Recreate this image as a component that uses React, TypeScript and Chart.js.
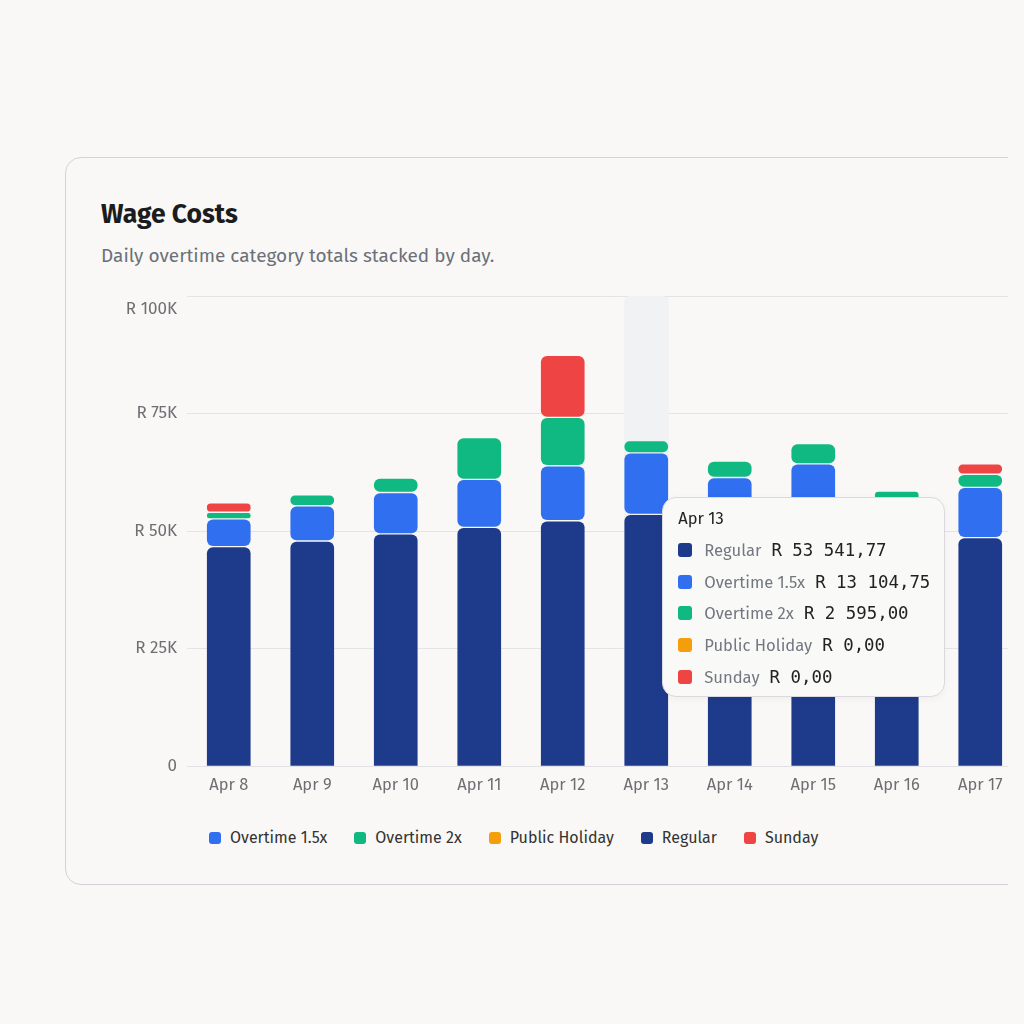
import React, { useEffect, useRef } from "react";
import { Chart, registerables, Tooltip } from "chart.js";

Chart.register(...registerables);

// ---- data -----------------------------------------------------------------
const days = ["Apr 8", "Apr 9", "Apr 10", "Apr 11", "Apr 12", "Apr 13", "Apr 14", "Apr 15", "Apr 16", "Apr 17"];
const regular = [46700, 47900, 49400, 50800, 52200, 53541.77, 52400, 53100, 50600, 48600];
const overtime15 = [5900, 7500, 8800, 10200, 11700, 13104.75, 9000, 11200, 6000, 10700];
const overtime2 = [1400, 2300, 3100, 8900, 10300, 2595, 3500, 4300, 1900, 2800];
const publicHoliday = [0, 0, 0, 0, 0, 0, 0, 0, 0, 0];
const sunday = [2000, 0, 0, 0, 13200, 0, 0, 0, 0, 2200];

const yTicks = [0, 25000, 50000, 75000, 100000];
const focusDay = "Apr 13";
const pointerValue = 36000;

const seriesNames = ["Regular", "Overtime 1.5x", "Overtime 2x", "Public Holiday", "Sunday"];
const seriesColors = ["#1e3a8a", "#2f6ff0", "#10b981", "#f59e0b", "#ef4444"];
const seriesValues = [regular, overtime15, overtime2, publicHoliday, sunday];

const PAGE_BG = "#f9f8f6";
const SANS = "'Fira Sans', 'Noto Sans', sans-serif";
const MONO = "'DejaVu Sans Mono', 'Liberation Mono', monospace";

function formatRand(v: number): string {
  const [int, dec] = v.toFixed(2).split(".");
  const grouped = int.replace(/\B(?=(\d{3})+(?!\d))/g, " ");
  return `R ${grouped},${dec}`;
}

function formatAxis(v: number): string {
  return v === 0 ? "0" : `R ${v / 1000}K`;
}

(Tooltip.positioners as any).pointer = function (elements: any[], eventPosition: any) {
  if (!elements.length) return false;
  return { x: elements[0].element.x, y: eventPosition.y };
};

// light column behind the focused day
const focusColumn = {
  id: "focusColumn",
  beforeDatasetsDraw(chart: any) {
    const idx = days.indexOf(focusDay);
    const el = chart.getDatasetMeta(0).data[idx];
    if (!el) return;
    const { ctx, chartArea } = chart;
    const w = el.width;
    ctx.save();
    ctx.fillStyle = "#f1f2f3";
    ctx.beginPath();
    ctx.roundRect(el.x - w / 2, chartArea.top, w, chartArea.bottom - chartArea.top, [6, 6, 0, 0]);
    ctx.fill();
    ctx.restore();
  },
};

const RADIUS = 7;

export default function App() {
  const canvasRef = useRef<HTMLCanvasElement | null>(null);
  const boxRef = useRef<HTMLDivElement | null>(null);
  const tipRef = useRef<HTMLDivElement | null>(null);

  useEffect(() => {
    document.body.style.background = PAGE_BG;
    const canvas = canvasRef.current!;
    Chart.defaults.font.family = SANS;

    const external = (context: any) => {
      const { tooltip } = context;
      const el = tipRef.current;
      const box = boxRef.current;
      if (!el || !box) return;
      if (tooltip.opacity === 0 || !tooltip.dataPoints?.length) {
        el.style.opacity = "0";
        return;
      }
      el.innerHTML = "";
      const title = document.createElement("div");
      title.textContent = tooltip.title?.[0] ?? "";
      Object.assign(title.style, { fontSize: "16.5px", color: "#222", lineHeight: "22px", marginBottom: "4px" });
      el.appendChild(title);
      tooltip.dataPoints.forEach((dp: any) => {
        const row = document.createElement("div");
        Object.assign(row.style, { display: "flex", alignItems: "center", height: "31.8px", whiteSpace: "nowrap" });
        const sw = document.createElement("span");
        Object.assign(sw.style, {
          width: "14px", height: "14px", borderRadius: "3px", background: dp.dataset.backgroundColor,
          marginRight: "12px", flex: "none",
        });
        const lbl = document.createElement("span");
        lbl.textContent = dp.dataset.label;
        Object.assign(lbl.style, { color: "#737880", fontSize: "16.6px", marginRight: "10px" });
        const val = document.createElement("span");
        val.textContent = formatRand(dp.parsed.y);
        Object.assign(val.style, { color: "#222", fontSize: "17.4px", fontFamily: MONO });
        row.append(sw, lbl, val);
        el.appendChild(row);
      });
      el.style.opacity = "1";
      const left = box.offsetLeft + tooltip.caretX + 16;
      const top = box.offsetTop + tooltip.caretY - el.offsetHeight / 2;
      el.style.left = `${left}px`;
      el.style.top = `${top}px`;
    };

    const chart = new Chart(canvas, {
      type: "bar",
      data: {
        labels: days,
        datasets: seriesNames.map((name, i) => ({
          label: name,
          data: seriesValues[i],
          backgroundColor: seriesColors[i],
          hoverBackgroundColor: seriesColors[i],
          borderColor: "rgba(0,0,0,0)",
          hoverBorderColor: "rgba(0,0,0,0)",
          borderWidth: i === 0 ? { top: 1, left: 1, right: 1, bottom: 0 } : 1,
          borderSkipped: false,
          borderRadius:
            i === 0
              ? { topLeft: RADIUS, topRight: RADIUS, bottomLeft: 0, bottomRight: 0 }
              : { topLeft: RADIUS, topRight: RADIUS, bottomLeft: RADIUS, bottomRight: RADIUS },
          barThickness: 45,
        })),
      },
      plugins: [focusColumn],
      options: {
        animation: false,
        responsive: true,
        maintainAspectRatio: false,
        events: [],
        layout: { padding: { top: 0, right: 0, bottom: 0, left: 0 } },
        scales: {
          x: {
            stacked: true,
            grid: { display: false, drawTicks: false },
            border: { display: true, color: "#e1e1e6", width: 1 },
            ticks: { color: "#6e6e73", font: { size: 16.5 }, padding: 9 },
          },
          y: {
            stacked: true,
            min: 0,
            max: 100000,
            afterFit(scale: any) {
              scale.width = 86;
            },
            afterBuildTicks(scale: any) {
              scale.ticks = yTicks.map((v) => ({ value: v }));
            },
            grid: { color: "#e3e3e8", lineWidth: 1, drawTicks: false },
            border: { display: false },
            ticks: {
              color: "#6e6e73",
              padding: 10,
              font: (c: any) =>
                c.tick && c.tick.value === 100000 ? { size: 17, lineHeight: 26 / 17 } : { size: 17 },
              callback: (v: any) => (Number(v) === 100000 ? ["", formatAxis(Number(v))] : formatAxis(Number(v))),
            },
          },
        },
        plugins: {
          legend: { display: false },
          tooltip: {
            enabled: false,
            mode: "index",
            intersect: false,
            position: "pointer" as any,
            external,
          },
        },
      },
    });

    const idx = days.indexOf(focusDay);
    const barX = chart.getDatasetMeta(0).data[idx].x;
    chart.tooltip!.setActiveElements(
      seriesNames.map((_, i) => ({ datasetIndex: i, index: idx })),
      { x: barX, y: chart.scales.y.getPixelForValue(pointerValue) }
    );
    chart.update();

    return () => chart.destroy();
  }, []);

  return (
    <div
      style={{
        position: "relative",
        width: 1000,
        height: 1008,
        overflow: "hidden",
        background: PAGE_BG,
        fontFamily: SANS,
      }}
    >
      <div
        style={{
          position: "absolute",
          left: 57,
          top: 149,
          width: 1100,
          height: 726,
          border: "1.5px solid #d2d2da",
          borderRadius: 16,
          background: PAGE_BG,
        }}
      />
      <div
        style={{
          position: "absolute",
          left: 93,
          top: 190,
          fontSize: 26.5,
          fontWeight: 700,
          lineHeight: "32px",
          color: "#1c1c1e",
        }}
      >
        Wage Costs
      </div>
      <div
        style={{
          position: "absolute",
          left: 93,
          top: 235,
          fontSize: 19,
          lineHeight: "26px",
          color: "#6b7079",
        }}
      >
        Daily overtime category totals stacked by day.
      </div>
      <div ref={boxRef} style={{ position: "absolute", left: 93, top: 252, width: 921, height: 544 }}>
        <canvas ref={canvasRef} />
      </div>
      <div
        style={{
          position: "absolute",
          left: 201,
          top: 819,
          display: "flex",
          alignItems: "center",
          gap: 27,
          fontSize: 16,
          color: "#333",
          lineHeight: "22px",
        }}
      >
        {seriesNames
          .map((name, i) => ({ name, color: seriesColors[i] }))
          .sort((a, b) => a.name.localeCompare(b.name))
          .map((s) => (
            <div key={s.name} style={{ display: "flex", alignItems: "center" }}>
              <span
                style={{ width: 12, height: 12, borderRadius: 3, background: s.color, marginRight: 9 }}
              />
              <span>{s.name}</span>
            </div>
          ))}
      </div>
      <div
        ref={tipRef}
        style={{
          position: "absolute",
          opacity: 0,
          padding: "10px 14px 3px 15px",
          background: "#f9f9f8",
          border: "1px solid #d9d9de",
          borderRadius: 14,
          boxShadow: "0 2px 8px rgba(0,0,0,0.04)",
          fontFamily: SANS,
          pointerEvents: "none",
        }}
      />
    </div>
  );
}
